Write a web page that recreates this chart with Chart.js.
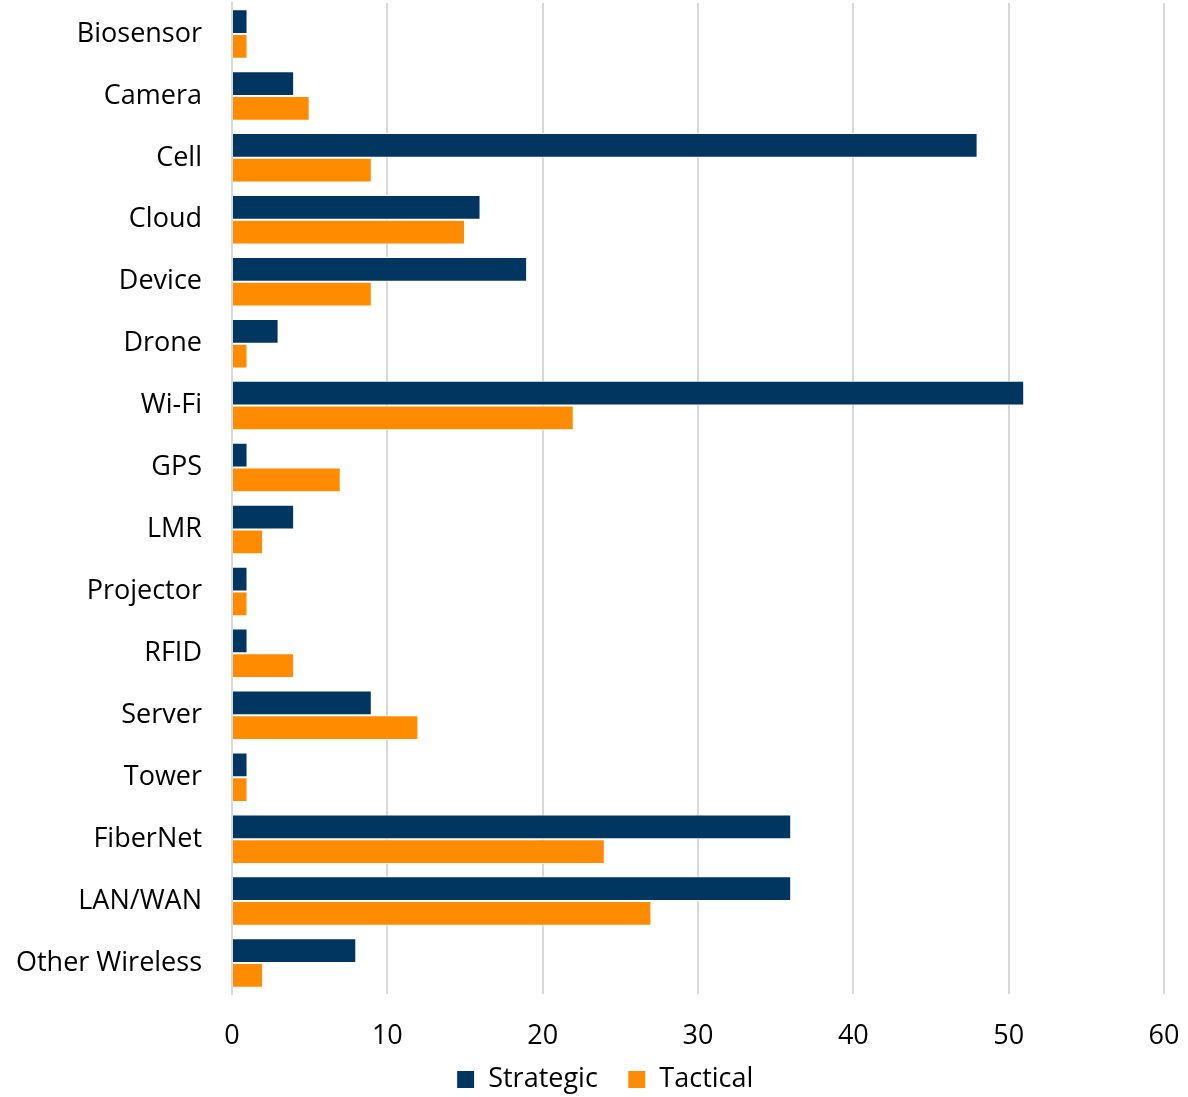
<!DOCTYPE html>
<html>
<head>
<meta charset="utf-8">
<script src="https://cdn.jsdelivr.net/npm/chart.js@4.4.1/dist/chart.umd.min.js"></script>
<style>
  html, body { margin: 0; padding: 0; background: #fff; }
  #wrap { width: 1188px; height: 1097px; }
</style>
</head>
<body>
<div id="wrap"><canvas id="chart" width="1188" height="1097"></canvas></div>
<script>
// categories and counts per use type
const categories = ['Biosensor', 'Camera', 'Cell', 'Cloud', 'Device', 'Drone', 'Wi-Fi', 'GPS',
    'LMR', 'Projector', 'RFID', 'Server', 'Tower', 'FiberNet', 'LAN/WAN', 'Other Wireless'];
const strategic = [1, 4, 48, 16, 19, 3, 51, 1, 4, 1, 1, 9, 1, 36, 36, 8];
const tactical = [1, 5, 9, 15, 9, 1, 22, 7, 2, 1, 4, 12, 1, 24, 27, 2];
const xTicks = [0, 10, 20, 30, 40, 50, 60];

const navy = '#003660';
const orange = '#FF8C00';
const font = "'Open Sans', sans-serif";

// legend keeps wide item spacing; grow its box upward and center it under the page
const legendShift = {
    id: 'legendShift',
    afterLayout(chart) {
        const lg = chart.legend;
        if (!lg) return;
        lg.top -= 16;
        lg.height += 16;
        lg.left += 23;
        lg.right += 23;
    }
};

const ctx = document.getElementById('chart').getContext('2d');
const chart = new Chart(ctx, {
    type: 'bar',
    data: {
        labels: categories,
        datasets: [{
            label: 'Strategic',
            data: strategic,
            backgroundColor: navy,
            borderColor: '#ffffff',
            borderWidth: 1,
            categoryPercentage: 0.8,
            barPercentage: 1.0
        }, {
            label: 'Tactical',
            data: tactical,
            backgroundColor: orange,
            borderColor: '#ffffff',
            borderWidth: 1,
            categoryPercentage: 0.8,
            barPercentage: 1.0
        }]
    },
    plugins: [legendShift],
    options: {
        indexAxis: 'y',
        responsive: false,
        animation: false,
        layout: { padding: { top: 3, right: 24, left: 0, bottom: 0 } },
        scales: {
            x: {
                min: 0,
                max: 60,
                afterBuildTicks: s => { s.ticks = xTicks.map(v => ({ value: v })); },
                grid: { color: '#d9d9d9', lineWidth: 2, drawTicks: false },
                border: { display: false },
                ticks: { color: '#000', font: { family: font, size: 27 }, padding: 26, maxRotation: 0 },
                afterFit: s => { s.height = 58; s.paddingLeft = 0; s.paddingRight = 0; }
            },
            y: {
                grid: { display: false, drawTicks: false },
                border: { color: '#d9d9d9', width: 2 },
                ticks: { color: '#000', font: { family: font, size: 27 }, padding: 30, autoSkip: false },
                afterFit: s => { s.width = 232; s.paddingTop = 0; s.paddingBottom = 0; }
            }
        },
        plugins: {
            legend: {
                position: 'bottom',
                maxHeight: 45,
                labels: {
                    color: '#000',
                    font: { family: font, size: 27 },
                    boxWidth: 18,
                    boxHeight: 18,
                    padding: 30
                }
            },
            tooltip: { enabled: false }
        }
    }
});
</script>
</body>
</html>
